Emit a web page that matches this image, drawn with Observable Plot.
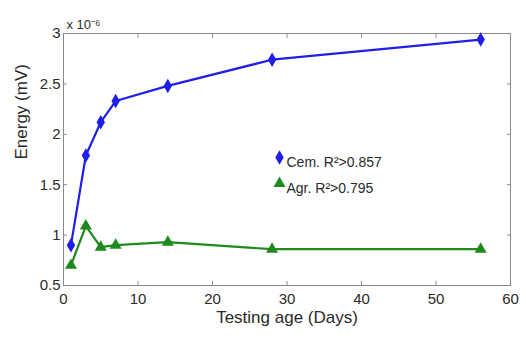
<!DOCTYPE html>
<html>
<head>
<meta charset="utf-8">
<script src="https://cdn.jsdelivr.net/npm/d3@7"></script>
<script src="https://cdn.jsdelivr.net/npm/@observablehq/plot@0.6"></script>
<style>
  html, body { margin: 0; padding: 0; background: #fff; }
  #chart svg { display: block; }
</style>
</head>
<body>
<div id="chart"></div>
<script>
// Testing age in days
const days = [1, 3, 5, 7, 14, 28, 56];
// Energy (×10⁻⁶ mV) for cement and aggregate specimens
const cemEnergy = [0.90, 1.79, 2.12, 2.33, 2.48, 2.74, 2.94];
const agrEnergy = [0.70, 1.09, 0.88, 0.90, 0.93, 0.86, 0.86];
const seriesNames = ["Cem. R\u00b2>0.857", "Agr. R\u00b2>0.795"];
const xTicks = [0, 10, 20, 30, 40, 50, 60];
const yTicks = [0.5, 1, 1.5, 2, 2.5, 3];

const blue = "#1f1fe6";
const green = "#1e8a1e";

const cem = days.map((d, i) => ({day: d, energy: cemEnergy[i]}));
const agr = days.map((d, i) => ({day: d, energy: agrEnergy[i]}));

const textColor = "#2a2a2a";
const axisColor = "#8a8a8a";
const fmt = d => String(d);

// one legend row: marker + label, placed inside the frame
function legendRow(name, color, symbol, dy) {
  return [
    Plot.dot([name], {frameAnchor: "top-left", dx: 216, dy, symbol, fill: color, stroke: color, r: symbol === "diamond" ? 3.5 : 3.5}),
    Plot.text([name], {frameAnchor: "top-left", dx: 223, dy, textAnchor: "start", fontSize: 14, fill: textColor})
  ];
}

const chart = Plot.plot({
  width: 526,
  height: 343,
  marginLeft: 63,
  marginRight: 16,
  marginTop: 33,
  marginBottom: 58,
  style: {fontFamily: "Liberation Sans, Arial, sans-serif", fontSize: "14px", color: textColor, background: "#fff"},
  x: {domain: [0, 60]},
  y: {domain: [0.5, 3]},
  marks: [
    Plot.frame({stroke: axisColor}),
    // inward ticks on all four sides
    Plot.axisX(xTicks, {anchor: "bottom", tickSize: -4, tickPadding: 12, tickFormat: fmt, stroke: axisColor, fill: textColor, label: null, fontSize: 15}),
    Plot.axisX(xTicks, {anchor: "top", tickSize: -4, tickFormat: () => "", stroke: axisColor, label: null}),
    Plot.axisY(yTicks, {anchor: "left", tickSize: -4, tickPadding: 7, tickFormat: fmt, stroke: axisColor, fill: textColor, label: null, fontSize: 15}),
    Plot.axisY(yTicks, {anchor: "right", tickSize: -4, tickFormat: () => "", stroke: axisColor, label: null}),
    Plot.text(["x 10\u207b\u2076"], {frameAnchor: "top-left", dx: 3, dy: -14, textAnchor: "start", fontSize: 13, fill: textColor}),
    Plot.text(["Testing age (Days)"], {frameAnchor: "bottom", dy: 37, fontSize: 17, fill: textColor}),
    Plot.text(["Energy (mV)"], {frameAnchor: "left", dx: -42, rotate: -90, fontSize: 17, fill: textColor}),
    // series
    Plot.line(cem, {x: "day", y: "energy", stroke: blue, strokeWidth: 2.2}),
    Plot.dot(cem, {x: "day", y: "energy", symbol: "diamond", fill: blue, stroke: blue, r: 3.5}),
    Plot.line(agr, {x: "day", y: "energy", stroke: green, strokeWidth: 2.2}),
    Plot.dot(agr, {x: "day", y: "energy", symbol: "triangle", fill: green, stroke: green, r: 3.5}),
    // legend
    ...legendRow(seriesNames[0], blue, "diamond", 124),
    ...legendRow(seriesNames[1], green, "triangle", 150)
  ]
});
document.getElementById("chart").append(chart);
</script>
</body>
</html>
